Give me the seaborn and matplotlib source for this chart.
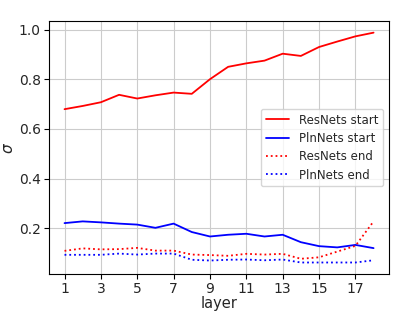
import numpy as np
import pandas as pd
import seaborn as sns
import matplotlib
matplotlib.use("Agg")
import matplotlib.pyplot as plt

layers = list(range(1, 19))

resnets_start = [0.680, 0.693, 0.708, 0.738, 0.723, 0.736, 0.747, 0.742, 0.801,
                 0.851, 0.865, 0.876, 0.904, 0.895, 0.931, 0.953, 0.974, 0.989]
plnnets_start = [0.220, 0.227, 0.223, 0.218, 0.214, 0.201, 0.218, 0.184, 0.166,
                 0.173, 0.177, 0.166, 0.173, 0.143, 0.127, 0.122, 0.132, 0.119]
resnets_end = [0.108, 0.118, 0.114, 0.115, 0.120, 0.109, 0.109, 0.093, 0.091,
               0.088, 0.096, 0.093, 0.096, 0.076, 0.082, 0.105, 0.128, 0.227]
plnnets_end = [0.092, 0.092, 0.092, 0.097, 0.093, 0.097, 0.097, 0.072, 0.069,
               0.072, 0.073, 0.070, 0.073, 0.061, 0.061, 0.061, 0.061, 0.070]

series = [
    ("ResNets start", resnets_start, "red", "-"),
    ("PlnNets start", plnnets_start, "blue", "-"),
    ("ResNets end", resnets_end, "red", ":"),
    ("PlnNets end", plnnets_end, "blue", ":"),
]

sns.set_style("ticks")
plt.rcParams["font.family"] = ["DejaVu Sans"]

fig, ax = plt.subplots(figsize=(3.99, 3.11), dpi=100)
fig.subplots_adjust(left=0.123, right=0.975, top=0.932, bottom=0.119)

for name, vals, col, ls in series:
    df = pd.DataFrame({"layer": layers, "sigma": vals})
    sns.lineplot(data=df, x="layer", y="sigma", color=col, linestyle=ls,
                 linewidth=1.3, label=name, ax=ax)

ax.set_xticks(range(1, 19, 2))
ax.set_yticks([0.2, 0.4, 0.6, 0.8, 1.0])
ax.grid(True, color="#cccccc", linewidth=0.8)
ax.tick_params(labelsize=10, color="black", length=3.5, width=0.8, pad=2.5)
ax.set_xlabel("layer", fontsize=10.5, labelpad=0)
ax.set_ylabel(r"$\sigma$", fontsize=11, labelpad=2)
for sp in ax.spines.values():
    sp.set_color("black")
    sp.set_linewidth(0.8)

ax.legend(loc="center right", fontsize=8.5, frameon=True, handlelength=2.0,
          labelspacing=0.45)

fig.savefig("out.png", dpi=100)
